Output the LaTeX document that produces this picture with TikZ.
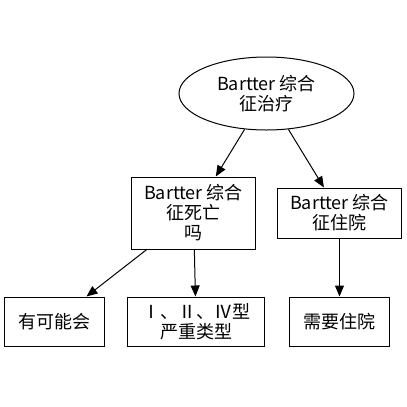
\documentclass[tikz,border=0pt]{standalone}
\usepackage{fontspec}
\setmainfont{Noto Sans CJK SC}
\usetikzlibrary{shapes.geometric,arrows.meta}
\tikzset{
  box/.style={draw,line width=1bp,rectangle,inner sep=0pt,align=center,
    font=\fontsize{18bp}{20bp}\selectfont},
  oval/.style={draw,line width=1bp,ellipse,inner sep=0pt,align=center,
    font=\fontsize{18bp}{20bp}\selectfont},
  arr/.style={line width=1bp,-{Triangle[length=11bp,width=9bp]}}
}
\begin{document}
\begin{tikzpicture}[x=1bp,y=-1bp]
    \useasboundingbox (0,0) rectangle (407,407);
    \node[oval,minimum width=175bp,minimum height=73bp](zl)at(266.5,93.5){Bartter 综合\\征治疗};
    \node[box,minimum width=123bp,minimum height=72bp](sw)at(193.5,213){Bartter 综合\\征死亡\\吗};
    \node[box,minimum width=123bp,minimum height=50bp](zy)at(339.5,213){Bartter 综合\\征住院};
    \node[box,minimum width=99bp,minimum height=49bp](kn)at(54.5,321.5){有可能会};
    \node[box,minimum width=136bp,minimum height=49bp](lx)at(196,321.5){Ⅰ、Ⅱ、Ⅳ型\\严重类型};
    \node[box,minimum width=99bp,minimum height=49bp](xy)at(339.5,321.5){需要住院};
    \draw[arr](zl)--(sw);
    \draw[arr](zl)--(zy);
    \draw[arr](sw)--(kn);
    \draw[arr](sw)--(lx);
    \draw[arr](zy)--(xy);
\end{tikzpicture}
\end{document}
